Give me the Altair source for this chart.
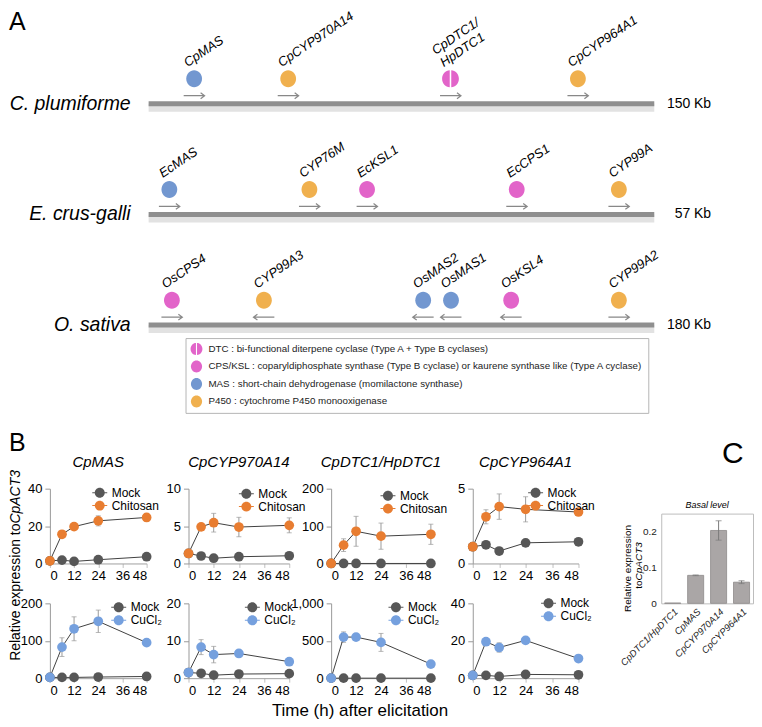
import altair as alt
import pandas as pd

FONT = "Liberation Sans"

# ---------------- Panel A data ----------------
species = ["C. plumiforme", "E. crus-galli", "O. sativa"]
cluster_sizes = ["150 Kb", "57 Kb", "180 Kb"]
gene_names = ["CpMAS", "CpCYP970A14", "CpDTC1/\nHpDTC1", "CpCYP964A1",
              "EcMAS", "CYP76M", "EcKSL1", "EcCPS1", "CYP99A",
              "OsCPS4", "CYP99A3", "OsMAS2", "OsMAS1", "OsKSL4", "CYP99A2"]
gene_row = [0, 0, 0, 0, 1, 1, 1, 1, 1, 2, 2, 2, 2, 2, 2]
gene_pos = [0.090, 0.276, 0.597, 0.849,
            0.041, 0.318, 0.432, 0.728, 0.930,
            0.046, 0.228, 0.543, 0.598, 0.717, 0.930]
gene_type = ["MAS", "P450", "DTC", "P450",
             "MAS", "P450", "CPS/KSL", "CPS/KSL", "P450",
             "CPS/KSL", "P450", "MAS", "MAS", "CPS/KSL", "P450"]
gene_dir = ["→", "→", "→", "→", "→", "→", "→", "→", "→",
            "→", "←", "←", "←", "←", "→"]
type_keys = ["DTC", "CPS/KSL", "MAS", "P450"]
type_desc = ["DTC : bi-functional diterpene cyclase (Type A + Type B cyclases)",
             "CPS/KSL : coparyldiphosphate synthase (Type B cyclase) or kaurene synthase like (Type A cyclase)",
             "MAS : short-chain dehydrogenase (momilactone synthase)",
             "P450 : cytochrome P450 monooxigenase"]

# ---------------- Panel B data ----------------
times = [0, 6, 12, 24, 48]
genes_b = ["CpMAS", "CpCYP970A14", "CpDTC1/HpDTC1", "CpCYP964A1"]
mock_chitosan = [[1.4, 1.8, 1.1, 2.0, 3.6], [1.34, 1.0, 0.7, 0.9, 1.03],
                 [0, 0, 0, 0, 0], [1.12, 1.25, 0.83, 1.38, 1.45]]
chitosan = [[1.4, 15.6, 19.7, 22.8, 24.6], [1.34, 4.9, 5.45, 4.87, 5.1],
            [0, 49, 86, 73, 78], [1.12, 3.12, 3.8, 3.62, 3.44]]
chitosan_err = [[0, 0.8, 1.0, 2.7, 2.0], [0, 0.3, 1.25, 1.3, 1.0],
                [0, 17, 40, 35, 27], [0, 0.47, 0.85, 0.84, 0.1]]
mock_cucl2 = [[2, 2, 2, 3, 4.5], [1.5, 1.3, 0.8, 1.1, 1.2],
              [0, 0, 0, 0, 0], [1.5, 1.5, 0.9, 2.0, 1.8]]
cucl2 = [[2, 83, 132, 152, 95], [1.5, 8.3, 6.3, 6.6, 4.4],
         [0, 549, 549, 478, 188], [1.5, 19.5, 16.4, 20.2, 10.5]]
cucl2_err = [[0, 25, 32, 30, 2], [0, 2.0, 2.2, 0.3, 0.3],
             [0, 70, 45, 120, 10], [0, 1, 2.5, 0.5, 0.3]]
yticks_top = [[0, 20, 40], [0, 5, 10], [0, 100, 200], [0, 5]]
yticks_bottom = [[0, 100, 200], [0, 10, 20], [0, 500, 1000], [0, 20, 40]]

# ---------------- Panel C data ----------------
c_genes = ["CpDTC1/HpDTC1", "CpMAS", "CpCYP970A14", "CpCYP964A1"]
c_vals = [0.001, 0.078, 0.203, 0.059]
c_err = [0.0, 0.001, 0.027, 0.004]

# ---------------- styles ----------------
BLUE_A, ORANGE_A, PINK_A = "#7297d0", "#f0b04e", "#e264c9"
MOCK_C, CHI_C, CU_C = "#575757", "#e87d31", "#75a0de"
ELLIPSE = "M0,-1A0.93,1,0,1,1,0,1A0.93,1,0,1,1,0,-1Z"
SPLIT = "M-0.09,-1A0.9,1,0,0,0,-0.09,1Z M0.09,-1A0.9,1,0,0,1,0.09,1Z"
RARROW = "M-1,0L1,0M0.62,-0.28L1,0L0.62,0.28"
LARROW = "M1,0L-1,0M-0.62,-0.28L-1,0L-0.62,0.28"
LEGSYM = ("M-1.5,-0.1H-0.9V0.1H-1.5Z M0.9,-0.1H1.5V0.1H0.9Z "
          "M-1,0A1,1,0,1,1,1,0A1,1,0,1,1,-1,0Z")

one = pd.DataFrame({"t": ["x"]})


def label(txt, x, y, **kw):
    """Free annotation text placed in pixel offsets of the view."""
    return alt.Chart(one).mark_text(font=FONT, **kw).encode(
        x=alt.value(x), y=alt.value(y), text=alt.value(txt))


def marker(x, y, align="left"):
    """Invisible text used only to pin the layout bounds."""
    return label(".", x, y, align=align, baseline="top", fontSize=8, opacity=0)


# ================= Panel A =================
desc_of = dict(zip(type_keys, type_desc))
rows_df = pd.DataFrame({"row": [0, 1, 2], "species": species, "size": cluster_sizes,
                        "start": [0, 0, 0], "end": [1, 1, 1]})
genes_df = pd.DataFrame({"name": gene_names, "row": gene_row, "pos": gene_pos,
                         "type": [desc_of[t] for t in gene_type], "dir": gene_dir})
xA = alt.Scale(domain=[-0.19527, 1.19527], nice=False, zero=False)
yA = alt.Scale(domain=[-0.7387, 2.8468], nice=False, zero=False, reverse=True)


def ax(field):
    return alt.X(field, scale=xA, axis=None)


def ay(field):
    return alt.Y(field, scale=yA, axis=None)


shadow = alt.Chart(rows_df).mark_rule(strokeWidth=8, color="#e2e2e2", yOffset=4).encode(
    x=ax("start:Q"), x2="end:Q", y=ay("row:Q"))
cline = alt.Chart(rows_df).mark_rule(strokeWidth=5, color="#8f8f8f").encode(
    x=ax("start:Q"), x2="end:Q", y=ay("row:Q"))
arrows_r = alt.Chart(genes_df).transform_filter(alt.datum.dir == "→").mark_point(
    filled=False, strokeWidth=1.2, color="#888888", size=440, yOffset=-8, opacity=1,
    shape=RARROW).encode(x=ax("pos:Q"), y=ay("row:Q"))
arrows_l = alt.Chart(genes_df).transform_filter(alt.datum.dir == "←").mark_point(
    filled=False, strokeWidth=1.2, color="#888888", size=440, yOffset=-8, opacity=1,
    shape=LARROW).encode(x=ax("pos:Q"), y=ay("row:Q"))
leg_a = alt.Legend(title=None, orient="none", legendX=136, legendY=317, direction="vertical",
                   strokeColor="#b5b5b5", padding=5, labelFontSize=9.8, labelFont=FONT,
                   labelLimit=600, symbolSize=144, rowPadding=5.5, labelOffset=6,
                   fillColor="white", symbolStrokeWidth=0, labelColor="#222222")
circles = alt.Chart(genes_df).mark_point(filled=True, size=289, yOffset=-25, opacity=1,
                                         strokeWidth=0).encode(
    x=ax("pos:Q"), y=ay("row:Q"),
    color=alt.Color("type:N", scale=alt.Scale(domain=type_desc,
                                              range=[PINK_A, PINK_A, BLUE_A, ORANGE_A]), legend=leg_a),
    shape=alt.Shape("type:N", scale=alt.Scale(domain=type_desc,
                                              range=[SPLIT, ELLIPSE, ELLIPSE, ELLIPSE]), legend=leg_a))
glabels_1 = alt.Chart(genes_df).transform_filter("indexof(datum.name, '/') < 0").mark_text(
    angle=326, align="left", baseline="bottom", xOffset=-5, yOffset=-34, fontSize=13,
    fontStyle="italic", lineBreak="\n", font=FONT).encode(
    x=ax("pos:Q"), y=ay("row:Q"), text="name:N")
glabels_2 = alt.Chart(genes_df).transform_filter("indexof(datum.name, '/') >= 0").mark_text(
    angle=326, align="left", baseline="bottom", xOffset=-5, yOffset=-34, dy=-15, fontSize=13,
    fontStyle="italic", lineBreak="\n", font=FONT).encode(
    x=ax("pos:Q"), y=ay("row:Q"), text="name:N")
sp_labels = alt.Chart(rows_df).mark_text(align="right", baseline="middle", xOffset=-18,
                                         fontSize=19.5, fontStyle="italic", font=FONT).encode(
    x=ax("start:Q"), y=ay("row:Q"), text="species:N")
kb_labels = alt.Chart(rows_df).mark_text(align="right", baseline="middle", xOffset=57,
                                         fontSize=14, font=FONT).encode(
    x=ax("end:Q"), y=ay("row:Q"), text="size:N")
letter_a = label("A", -41, -12, align="left", baseline="top", fontSize=25)

panel_a = alt.layer(shadow, cline, arrows_r, arrows_l, circles, glabels_1, glabels_2, sp_labels,
                    kb_labels, letter_a).properties(width=705, height=398)


# ================= Panel B =================
def small_chart(k, kind, width, leg_xy, title=None, extra=()):
    if kind == 0:
        treat, tcol = "Chitosan", CHI_C
        mv, tv, te, yt = mock_chitosan[k], chitosan[k], chitosan_err[k], yticks_top[k]
    else:
        treat, tcol = "CuCl₂", CU_C
        mv, tv, te, yt = mock_cucl2[k], cucl2[k], cucl2_err[k], yticks_bottom[k]
    recs = []
    for t, v in zip(times, mv):
        recs.append({"series": "Mock", "time": t, "value": v, "lo": v, "hi": v, "err": 0})
    for t, v, e in zip(times, tv, te):
        recs.append({"series": treat, "time": t, "value": v, "lo": v - e, "hi": v + e, "err": e})
    df = pd.DataFrame(recs)
    dfe = df[df["err"] > 0]
    xs = alt.Scale(domain=[0, 48], nice=False, zero=False)
    ys = alt.Scale(domain=[0, yt[-1]], nice=False)
    xax = alt.Axis(values=[0, 12, 24, 36, 48], title=None, labelFontSize=13, grid=False,
                   domainColor="#a0a0a0", tickColor="#c0c0c0", tickSize=4, labelPadding=2,
                   labelColor="#000000")
    yax = alt.Axis(values=yt, title=None, labelFontSize=13, grid=False, domainColor="#999999",
                   tickColor="#999999", tickSize=5, labelPadding=3, labelColor="#000000")

    def X(f):
        return alt.X(f, scale=xs, axis=xax)

    def Y(f):
        return alt.Y(f, scale=ys, axis=yax)

    err = alt.Chart(dfe).mark_rule(color="#9a9a9a", strokeWidth=1).encode(
        x=X("time:Q"), y=Y("lo:Q"), y2="hi:Q")
    cap1 = alt.Chart(dfe).mark_tick(orient="horizontal", size=5, thickness=1, color="#9a9a9a").encode(
        x=X("time:Q"), y=Y("lo:Q"))
    cap2 = alt.Chart(dfe).mark_tick(orient="horizontal", size=5, thickness=1, color="#9a9a9a").encode(
        x=X("time:Q"), y=Y("hi:Q"))
    lines = alt.Chart(df).mark_line(color="#404040", strokeWidth=1).encode(
        x=X("time:Q"), y=Y("value:Q"), detail="series:N")
    leg = alt.Legend(title=None, orient="none", legendX=leg_xy[0] - 5, legendY=leg_xy[1] - 6,
                     symbolType=LEGSYM, symbolSize=100, symbolStrokeWidth=0,
                     labelFontSize=12, labelFont=FONT, labelOffset=6, rowPadding=1,
                     padding=0, labelColor="#000000")
    pts = alt.Chart(df).mark_point(filled=True, size=95, opacity=1, strokeWidth=0).encode(
        x=X("time:Q"), y=Y("value:Q"),
        color=alt.Color("series:N", scale=alt.Scale(domain=["Mock", treat], range=[MOCK_C, tcol]),
                        legend=leg))
    ch = alt.layer(err, cap1, cap2, lines, pts, *extra).properties(width=width, height=75)
    if title:
        ch = ch.properties(title=alt.TitleParams(title, fontStyle="italic", fontSize=15,
                                                 fontWeight="normal", offset=13, font=FONT,
                                                 frame="group"))
    return ch


widths = [97, 101, 100, 106]
leg_top = [(49, 4), (57, 5), (56, 7), (62, 4)]
leg_bot = [(68, 4), (63, 4), (64, 4), (75, 0)]

# texts hosted by the lower-left panel (pixel offsets from that view)
b_extra_bot1 = (
    marker(-41, -175),
    label("B", -41, -153, align="left", baseline="alphabetic", fontSize=25),
    label("Relative expression to ", -34, -80, angle=270, align="right", baseline="middle", fontSize=14),
    label("CpACT3", -34, -80, angle=270, align="left", baseline="middle", fontSize=14, fontStyle="italic"),
    label("Time (h) after elicitation", 311, 108, align="center", baseline="middle", fontSize=17),
)
b_extra_top4 = (marker(125, 10, align="right"),)

top_charts = [small_chart(k, 0, widths[k], leg_top[k], genes_b[k], b_extra_top4 if k == 3 else ())
              for k in range(4)]
bot_charts = [small_chart(k, 1, widths[k], leg_bot[k], None, b_extra_bot1 if k == 0 else ())
              for k in range(4)]

IND = dict(color="independent", x="independent", y="independent")

b_grid = alt.concat(*top_charts, *bot_charts, columns=4, spacing={"row": 40, "column": 42},
                    bounds="flush").resolve_scale(**IND).resolve_legend(color="independent")

# ================= Panel C =================
c_df = pd.DataFrame({"gene": c_genes, "val": c_vals, "err": c_err})
c_df["lo"] = c_df["val"] - c_df["err"]
c_df["hi"] = c_df["val"] + c_df["err"]
c_dfe = c_df[c_df["err"] > 0]
xcs = alt.Scale(paddingInner=0.3, paddingOuter=0.15)
ycs = alt.Scale(domain=[0, 0.25], nice=False)
xca = alt.Axis(title=None, labelAngle=315, labelFontSize=9.5, labelFontStyle="italic", ticks=False,
               domain=False, labelPadding=3, labelColor="#222222")
yca = alt.Axis(title=None, values=[0, 0.1, 0.2], format="~g", labelFontSize=10, ticks=False,
               domain=False, grid=False, labelPadding=5, labelColor="#222222")


def XC():
    return alt.X("gene:N", sort=c_genes, scale=xcs, axis=xca)


bars = alt.Chart(c_df).mark_bar(color="#aaa6a6", stroke="#8e8a8a", strokeWidth=0.8).encode(
    x=XC(), y=alt.Y("val:Q", scale=ycs, axis=yca))
c_err_rule = alt.Chart(c_dfe).mark_rule(color="#7a7a7a", strokeWidth=1).encode(
    x=XC(), y=alt.Y("lo:Q", scale=ycs, axis=yca), y2="hi:Q")
c_cap1 = alt.Chart(c_dfe).mark_tick(orient="horizontal", size=6, thickness=1, color="#7a7a7a").encode(
    x=XC(), y=alt.Y("lo:Q", scale=ycs, axis=yca))
c_cap2 = alt.Chart(c_dfe).mark_tick(orient="horizontal", size=6, thickness=1, color="#7a7a7a").encode(
    x=XC(), y=alt.Y("hi:Q", scale=ycs, axis=yca))
c_texts = [
    marker(-56, 40),
    label("Relative expression", -33, 55, angle=270, align="center", baseline="middle", fontSize=10),
    label("to ", -22, 67, angle=270, align="right", baseline="middle", fontSize=10),
    label("CpACT3", -22, 67, angle=270, align="left", baseline="middle", fontSize=10, fontStyle="italic"),
]
c_plot = alt.layer(bars, c_err_rule, c_cap1, c_cap2, *c_texts).properties(
    width=92, height=90, view=alt.ViewBackground(stroke="#bdbdbd"),
    title=alt.TitleParams("Basal level", fontStyle="italic", fontSize=9, fontWeight="normal",
                          offset=4, font=FONT, frame="group"))
c_spacer = alt.layer(label("C", 61, -26, align="left", baseline="alphabetic", fontSize=30)).properties(
    width=92, height=1)
c_col = alt.vconcat(c_spacer, c_plot, spacing=10).resolve_scale(**IND)

bottom = alt.hconcat(b_grid, c_col, spacing=7).resolve_scale(
    **IND).resolve_legend(color="independent")

chart = alt.vconcat(panel_a, bottom, spacing=10,
                    padding={"top": 0, "left": 0, "right": 0, "bottom": 0}).resolve_scale(
    **IND).resolve_legend(color="independent", shape="independent").configure_view(
    stroke=None).configure_axis(labelFont=FONT, titleFont=FONT).configure_legend(
    labelFont=FONT).configure_title(font=FONT).configure_text(font=FONT)

chart.save("out.html", embed_options={"renderer": "svg", "actions": False})
